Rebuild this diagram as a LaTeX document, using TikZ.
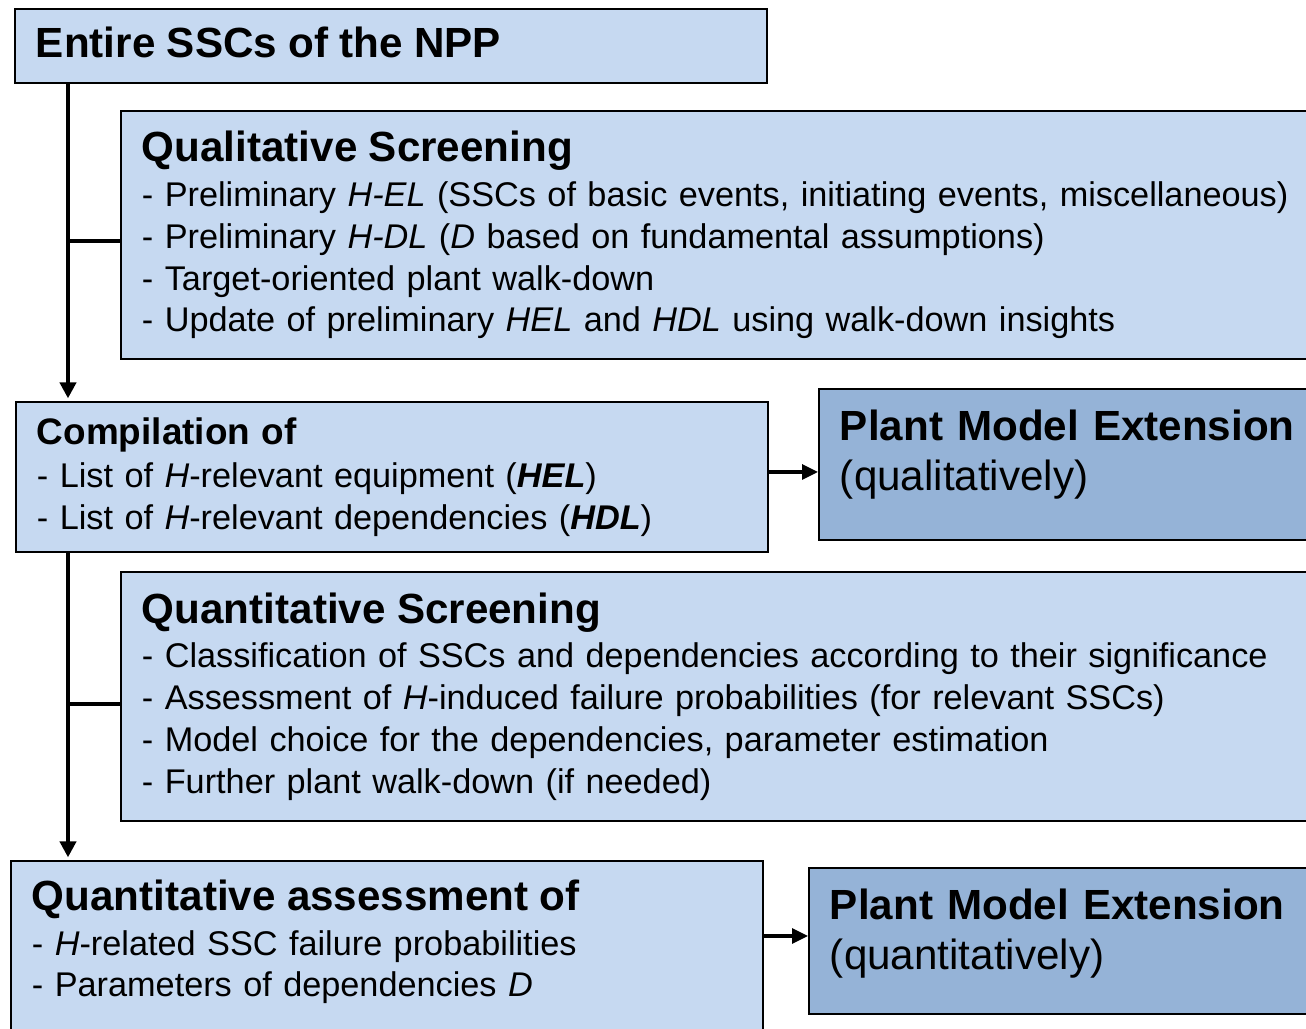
\documentclass[tikz,border=0pt]{standalone}
\usepackage{fontspec}
\setmainfont{Liberation Sans}
\usetikzlibrary{arrows.meta,positioning}
\definecolor{boxlight}{HTML}{C6D9F1}
\definecolor{boxdark}{HTML}{95B3D7}
\newcommand{\ttl}[1]{{\fontsize{24}{28}\selectfont\bfseries #1}}
\newcommand{\subttl}[1]{{\fontsize{21}{25}\selectfont\bfseries #1}}

\begin{document}
\begin{tikzpicture}[%
        every node/.style={draw, line width=1.1pt, anchor=north west, align=left, inner xsep=0.42cm, inner ysep=0.1cm},
        stage/.style={fill=boxlight, font=\fontsize{19.5}{23.8}\selectfont},
        model/.style={fill=boxdark, font=\fontsize{24}{28.4}\selectfont},
        branch/.style={line width=2.3pt},
        flow/.style={line width=2.3pt, -{Triangle[length=0.32cm,width=0.32cm]}, shorten >=1.5pt},
        feed/.style={line width=1.8pt, -{Triangle[length=0.32cm,width=0.3cm]}}
      ]
      \useasboundingbox (0,0) rectangle (26.12,-20.58);
      \node [stage, text width=14.2cm, minimum height=1.48cm] (entire) at (0.28,-0.16) {\ttl{Entire SSCs of the NPP}\vphantom{g}};
      \node [stage, text width=23.36cm, minimum height=4.96cm] (qual) at (2.4,-2.2) {\ttl{Qualitative Screening}\\[1.7pt]
        - Preliminary \textit{H-EL} (SSCs of basic events, initiating events, miscellaneous)\\
        - Preliminary \textit{H-DL} (\textit{D} based on fundamental assumptions)\\
        - Target-oriented plant walk-down\\
        - Update of preliminary \textit{HEL} and \textit{HDL} using walk-down insights};
      \node [stage, text width=14.2cm, minimum height=3.0cm] (compile) at (0.3,-8.02) {\subttl{Compilation of}\\[1pt]
        - List of \textit{H}-relevant equipment (\textbf{\textit{HEL}})\\
        - List of \textit{H}-relevant dependencies (\textbf{\textit{HDL}})};
      \node [model, text width=9.4cm, minimum height=3.02cm, text depth=1.58cm] (qualmodel) at (16.36,-7.76) {\textbf{Plant Model Extension}\\
        (qualitatively)};
      \node [stage, text width=23.36cm, minimum height=4.98cm] (quant) at (2.4,-11.42) {\ttl{Quantitative Screening}\\[1.7pt]
        - Classification of SSCs and dependencies according to their significance\\
        - Assessment of \textit{H}-induced failure probabilities (for relevant SSCs)\\
        - Model choice for the dependencies, parameter estimation\\
        - Further plant walk-down (if needed)};
      \node [stage, text width=14.2cm, minimum height=3.8cm, text depth=2.44cm] (assess) at (0.2,-17.2) {\ttl{Quantitative assessment of}\\[1.7pt]
        - \textit{H}-related SSC failure probabilities\\
        - Parameters of dependencies \textit{D}};
      \node [model, text width=9.6cm, minimum height=2.92cm, text depth=1.46cm] (quantmodel) at (16.16,-17.34) {\textbf{Plant Model Extension}\\
        (quantitatively)};
      % spine from the plant down to the compilation
      \coordinate (sp1) at ([xshift=1.08cm]entire.south west);
      \draw [flow] (sp1) -- (sp1 |- compile.north);
      \draw [branch] ([yshift=-0.12cm]sp1 |- qual.west) -- ([yshift=-0.12cm]qual.west);
      % spine from the compilation down to the assessment
      \coordinate (sp2) at ([xshift=1.06cm]compile.south west);
      \draw [flow] (sp2) -- (sp2 |- assess.north);
      \draw [branch] ([yshift=-0.16cm]sp2 |- quant.west) -- ([yshift=-0.16cm]quant.west);
      \draw [feed] ([yshift=0.1cm]compile.east) -- ([yshift=0.1cm]compile.east -| qualmodel.west);
      \draw [feed] ([yshift=0.1cm]quantmodel.west -| assess.east) -- ([yshift=0.1cm]quantmodel.west);
    \end{tikzpicture}
\end{document}
